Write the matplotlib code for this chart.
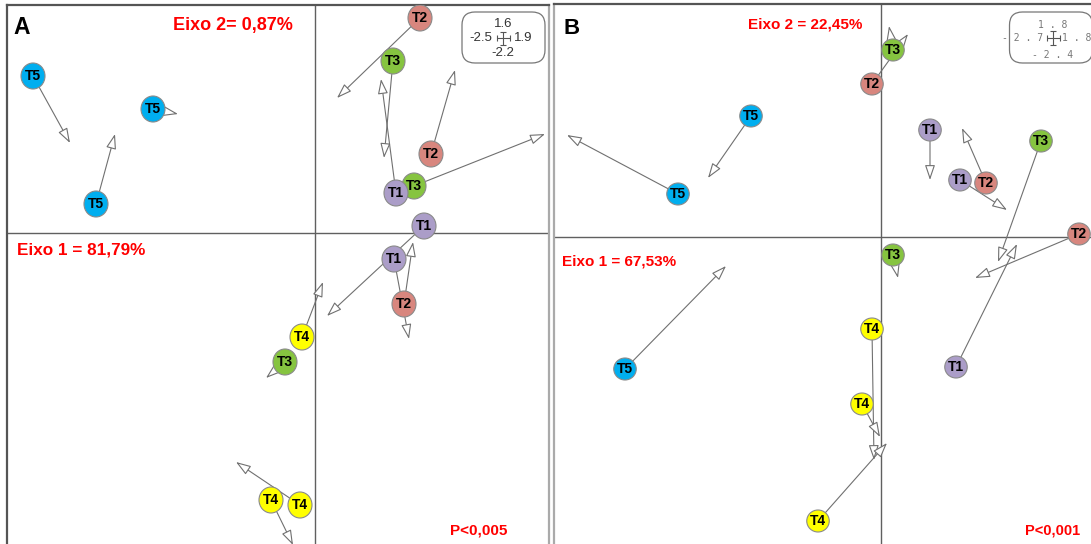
import matplotlib
matplotlib.use("Agg")
import matplotlib.pyplot as plt
from matplotlib.patches import Ellipse, FancyBboxPatch

plt.rcParams['font.family'] = ['Liberation Sans', 'DejaVu Sans']

# PCA-like ordination scores, start point -> arrow tip (axis 1, axis 2)
a_group = ['T5', 'T5', 'T5', 'T2', 'T3', 'T2', 'T3', 'T1', 'T1', 'T1', 'T2', 'T4', 'T3', 'T4', 'T4']
a_x0 = [-5.64, -3.24, -4.38, 2.10, 1.56, 2.32, 1.98, 1.62, 2.18, 1.58, 1.78, -0.26, -0.60, -0.30, -0.88]
a_y0 = [3.14, 2.48, 0.58, 4.30, 3.44, 1.58, 0.94, 0.80, 0.14, -0.52, -1.42, -2.08, -2.58, -5.44, -5.34]
a_x1 = [-4.90, -2.74, -4.00, 0.44, 1.38, 2.80, 4.60, 1.32, 0.24, 1.88, 1.96, 0.16, -0.98, -1.58, -0.44]
a_y1 = [1.80, 2.38, 1.98, 2.70, 1.50, 3.26, 1.98, 3.08, -1.66, -2.12, -0.18, -0.98, -2.90, -4.58, -6.24]

b_group = ['T3', 'T2', 'T5', 'T5', 'T1', 'T1', 'T2', 'T3', 'T2', 'T3', 'T1', 'T5', 'T4', 'T4', 'T4']
b_x0 = [0.24, -0.18, -2.60, -4.06, 0.98, 1.58, 2.10, 3.20, 3.96, 0.24, 1.50, -5.12, -0.18, -0.38, -1.26]
b_y0 = [3.74, 3.06, 2.42, 0.86, 2.14, 1.14, 1.08, 1.92, 0.06, -0.36, -2.60, -2.64, -1.84, -3.34, -5.68]
b_x1 = [0.16, 0.54, -3.46, -6.28, 0.98, 2.52, 1.62, 2.34, 1.88, 0.34, 2.72, -3.10, -0.14, -0.02, 0.12]
b_y1 = [4.22, 4.06, 1.18, 2.04, 1.14, 0.54, 2.18, -0.50, -0.82, -0.82, -0.14, -0.58, -4.46, -4.00, -4.12]

# scale indicator limits (up, left, right, down)
a_scale = ['1.6', '-2.5', '1.9', '-2.2']
b_scale = ['1 . 8', '- 2 . 7', '1 . 8', '- 2 . 4']

colors = {'T1': '#ab9dc8', 'T2': '#d8867e', 'T3': '#86c440',
          'T4': '#ffff00', 'T5': '#00aeef'}

W, H = 1091, 544
PX = 50.0  # pixels per score unit

fig = plt.figure(figsize=(W / 100, H / 100), dpi=100)


def make_panel(left, right, top, bottom, ox, oy, frame):
    ax = fig.add_axes([left / W, 1 - bottom / H, (right - left) / W, (bottom - top) / H])
    ax.set_xlim((left - ox) / PX, (right - ox) / PX)
    ax.set_ylim((oy - bottom) / PX, (oy - top) / PX)
    ax.set_xticks([])
    ax.set_yticks([])
    for side, c in frame.items():
        ax.spines[side].set_color(c)
        ax.spines[side].set_linewidth(1.6)
    ax.axhline(0, color='#606060', lw=1)
    ax.axvline(0, color='#606060', lw=1)
    return ax


def draw_arrows(ax, groups, x0, y0, x1, y1, w, h):
    for i in range(len(groups)):
        ax.annotate('', xy=(x1[i], y1[i]), xytext=(x0[i], y0[i]),
                    arrowprops=dict(arrowstyle='-|>,head_length=0.65,head_width=0.22',
                                    mutation_scale=14, fc='white', ec='#707070',
                                    lw=0.8, shrinkA=0, shrinkB=0), zorder=2)
    for i, g in enumerate(groups):
        ax.add_patch(Ellipse((x0[i], y0[i]), w, h, fc=colors[g], ec='#8a8a8a',
                             lw=0.8, zorder=3))
        ax.text(x0[i], y0[i], g, ha='center', va='center', fontsize=10,
                fontweight='bold', color='black', zorder=4)


def scale_box(ax, xc, yc, bw, bh, cx, cy, labels, dy, gap, mono):
    ax.add_patch(FancyBboxPatch((xc - bw / 2, yc - bh / 2), bw, bh,
                                boxstyle='round,pad=0,rounding_size=0.26',
                                fc='white', ec='#777777', lw=0.9, zorder=5))
    ax.errorbar([cx], [cy], xerr=0.13, yerr=0.13, fmt='none', ecolor='#555555',
                elinewidth=0.8, capsize=2.5, capthick=0.8, zorder=6)
    kw = dict(va='center', zorder=6)
    if mono:
        kw.update(family='DejaVu Sans Mono', fontsize=7, color='#777777')
    else:
        kw.update(fontsize=9.5, color='#333333')
    ax.text(cx, cy + dy[0], labels[0], ha='center', **kw)
    ax.text(cx - gap, cy, labels[1], ha='right', **kw)
    ax.text(cx + gap, cy, labels[2], ha='left', **kw)
    ax.text(cx, cy - dy[1], labels[3], ha='center', **kw)


# panel A
axA = make_panel(7, 549, 5, 548, 315, 233,
                 {'left': '#555555', 'top': '#555555', 'right': '#aaaaaa', 'bottom': '#555555'})
draw_arrows(axA, a_group, a_x0, a_y0, a_x1, a_y1, 0.48, 0.52)
scale_box(axA, 3.77, 3.91, 1.66, 1.02, 3.76, 3.90, a_scale, (0.28, 0.30), 0.22, False)
axA.text(0.011, 0.959, 'A', transform=axA.transAxes, fontsize=16.5, fontweight='bold',
         va='center', ha='left')
axA.text(0.417, 0.963, 'Eixo 2= 0,87%', transform=axA.transAxes, color='red',
         fontsize=13, fontweight='bold', ha='center', va='center')
axA.text(0.018, 0.549, 'Eixo 1 = 81,79%', transform=axA.transAxes, color='red',
         fontsize=12.3, fontweight='bold', ha='left', va='center')
axA.text(0.871, 0.033, 'P<0,005', transform=axA.transAxes, color='red',
         fontsize=11, fontweight='bold', ha='center', va='center')

# panel B
axB = make_panel(554, 1094, 4, 548, 881, 237,
                 {'left': '#aaaaaa', 'top': '#555555', 'right': '#555555', 'bottom': '#555555'})
draw_arrows(axB, b_group, b_x0, b_y0, b_x1, b_y1, 0.45, 0.44)
scale_box(axB, 3.40, 3.99, 1.66, 1.02, 3.44, 3.98, b_scale, (0.26, 0.34), 0.19, True)
axB.text(0.017, 0.955, 'B', transform=axB.transAxes, fontsize=16, fontweight='bold',
         va='center', ha='left')
axB.text(0.465, 0.963, 'Eixo 2 = 22,45%', transform=axB.transAxes, color='red',
         fontsize=11, fontweight='bold', ha='center', va='center')
axB.text(0.015, 0.526, 'Eixo 1 = 67,53%', transform=axB.transAxes, color='red',
         fontsize=11, fontweight='bold', ha='left', va='center')
axB.text(0.924, 0.033, 'P<0,001', transform=axB.transAxes, color='red',
         fontsize=10.5, fontweight='bold', ha='center', va='center')

fig.savefig('out.png', dpi=100)
